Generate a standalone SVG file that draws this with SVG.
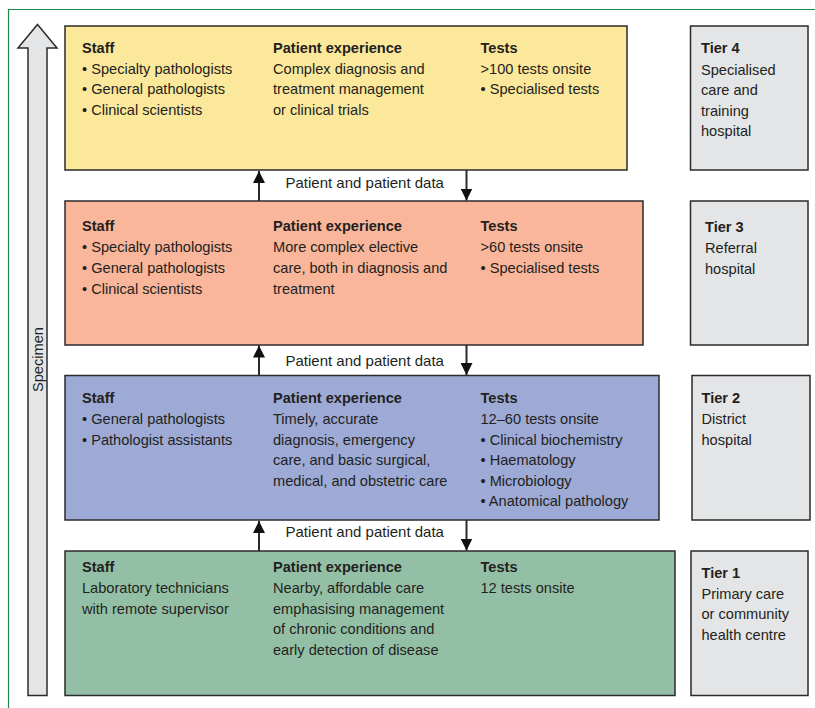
<svg xmlns="http://www.w3.org/2000/svg" width="815" height="708" viewBox="0 0 815 708">
<style>
text{font-family:"Liberation Sans",Arial,sans-serif;font-size:14.6px;fill:#231f20}
.b{font-weight:bold}
.box{stroke:#2b2b2b;stroke-width:1.5}
.tier{fill:#e4e5e7;stroke:#2b2b2b;stroke-width:1.5}
.conn line{stroke:#2b2b2b;stroke-width:2}
.conn text{font-size:15px}
.frame{stroke:#1e8a4c;stroke-width:1.2;fill:none}
</style>
<defs>
<marker id="ah" viewBox="0 0 12 12" refX="12" refY="6" markerWidth="12" markerHeight="12" markerUnits="userSpaceOnUse" orient="auto">
<path d="M0,0 L12,6 L0,12 Z" fill="#111"/>
</marker>
</defs>
<rect width="815" height="708" fill="#fff"/>
<path class="frame" d="M8.5,708 V9.5 H815"/>

<g id="specimen">
<polygon points="37.5,24.5 57,48 47,48 47,695.5 28,695.5 28,48 18,48" fill="#e4e5e7" stroke="#2b2b2b" stroke-width="1.5"/>
<text transform="translate(42.5,392) rotate(-90)">Specimen</text>
</g>

<g id="tier4">
<rect class="box" x="65" y="26" width="562" height="144" fill="#fce89b"/>
<text x="82" y="52.5" class="b">Staff</text>
<text x="82" y="73.8">• Specialty pathologists</text>
<text x="82" y="94.4">• General pathologists</text>
<text x="82" y="115">• Clinical scientists</text>
<text x="273" y="52.5" class="b">Patient experience</text>
<text x="273" y="73.8">Complex diagnosis and</text>
<text x="273" y="94.4">treatment management</text>
<text x="273" y="115">or clinical trials</text>
<text x="480.5" y="52.5" class="b">Tests</text>
<text x="480.5" y="73.8">&gt;100 tests onsite</text>
<text x="480.5" y="94.4">• Specialised tests</text>
</g>
<g id="tier4-label">
<rect class="tier" x="690.5" y="26" width="117.5" height="144"/>
<text x="701" y="53.3" class="b">Tier 4</text>
<text x="701" y="74.6">Specialised</text>
<text x="701" y="95.2">care and</text>
<text x="701" y="115.8">training</text>
<text x="701" y="136.4">hospital</text>
</g>

<g id="tier3">
<rect class="box" x="65" y="201" width="578" height="144" fill="#f9b69b"/>
<text x="82" y="231" class="b">Staff</text>
<text x="82" y="252.3">• Specialty pathologists</text>
<text x="82" y="272.9">• General pathologists</text>
<text x="82" y="293.5">• Clinical scientists</text>
<text x="273" y="231" class="b">Patient experience</text>
<text x="273" y="252.3">More complex elective</text>
<text x="273" y="272.9">care, both in diagnosis and</text>
<text x="273" y="293.5">treatment</text>
<text x="480.5" y="231" class="b">Tests</text>
<text x="480.5" y="252.3">&gt;60 tests onsite</text>
<text x="480.5" y="272.9">• Specialised tests</text>
</g>
<g id="tier3-label">
<rect class="tier" x="690.5" y="201" width="117.5" height="144"/>
<text x="705" y="231.7" class="b">Tier 3</text>
<text x="705" y="253">Referral</text>
<text x="705" y="273.6">hospital</text>
</g>

<g id="tier2">
<rect class="box" x="65" y="375.5" width="594" height="144.5" fill="#9daad6"/>
<text x="82" y="402.7" class="b">Staff</text>
<text x="82" y="424">• General pathologists</text>
<text x="82" y="444.6">• Pathologist assistants</text>
<text x="273" y="402.7" class="b">Patient experience</text>
<text x="273" y="424">Timely, accurate</text>
<text x="273" y="444.6">diagnosis, emergency</text>
<text x="273" y="465.2">care, and basic surgical,</text>
<text x="273" y="485.8">medical, and obstetric care</text>
<text x="480.5" y="402.7" class="b">Tests</text>
<text x="480.5" y="424">12–60 tests onsite</text>
<text x="480.5" y="444.6">• Clinical biochemistry</text>
<text x="480.5" y="465.2">• Haematology</text>
<text x="480.5" y="485.8">• Microbiology</text>
<text x="480.5" y="506.4">• Anatomical pathology</text>
</g>
<g id="tier2-label">
<rect class="tier" x="692" y="375.5" width="118" height="144.5"/>
<text x="701.5" y="402.7" class="b">Tier 2</text>
<text x="701.5" y="424">District</text>
<text x="701.5" y="444.6">hospital</text>
</g>

<g id="tier1">
<rect class="box" x="65" y="551" width="610" height="144.5" fill="#93bfa6"/>
<text x="82" y="571.7" class="b">Staff</text>
<text x="82" y="593">Laboratory technicians</text>
<text x="82" y="613.6">with remote supervisor</text>
<text x="273" y="571.7" class="b">Patient experience</text>
<text x="273" y="593">Nearby, affordable care</text>
<text x="273" y="613.6">emphasising management</text>
<text x="273" y="634.2">of chronic conditions and</text>
<text x="273" y="654.8">early detection of disease</text>
<text x="480.5" y="571.7" class="b">Tests</text>
<text x="480.5" y="593">12 tests onsite</text>
</g>
<g id="tier1-label">
<rect class="tier" x="691" y="551" width="117" height="144.5"/>
<text x="701.5" y="577.5" class="b">Tier 1</text>
<text x="701.5" y="598.8">Primary care</text>
<text x="701.5" y="619.4">or community</text>
<text x="701.5" y="640">health centre</text>
</g>

<g id="connectors" class="conn">
<line x1="259" y1="201" x2="259" y2="171" marker-end="url(#ah)"/>
<line x1="466.5" y1="170" x2="466.5" y2="200.5" marker-end="url(#ah)"/>
<line x1="259" y1="375.5" x2="259" y2="345.5" marker-end="url(#ah)"/>
<line x1="466.5" y1="345" x2="466.5" y2="375" marker-end="url(#ah)"/>
<line x1="259" y1="551" x2="259" y2="521" marker-end="url(#ah)"/>
<line x1="466.5" y1="520" x2="466.5" y2="550.5" marker-end="url(#ah)"/>
<text x="285.5" y="188">Patient and patient data</text>
<text x="285.5" y="366">Patient and patient data</text>
<text x="285.5" y="537.3">Patient and patient data</text>
</g>
</svg>
